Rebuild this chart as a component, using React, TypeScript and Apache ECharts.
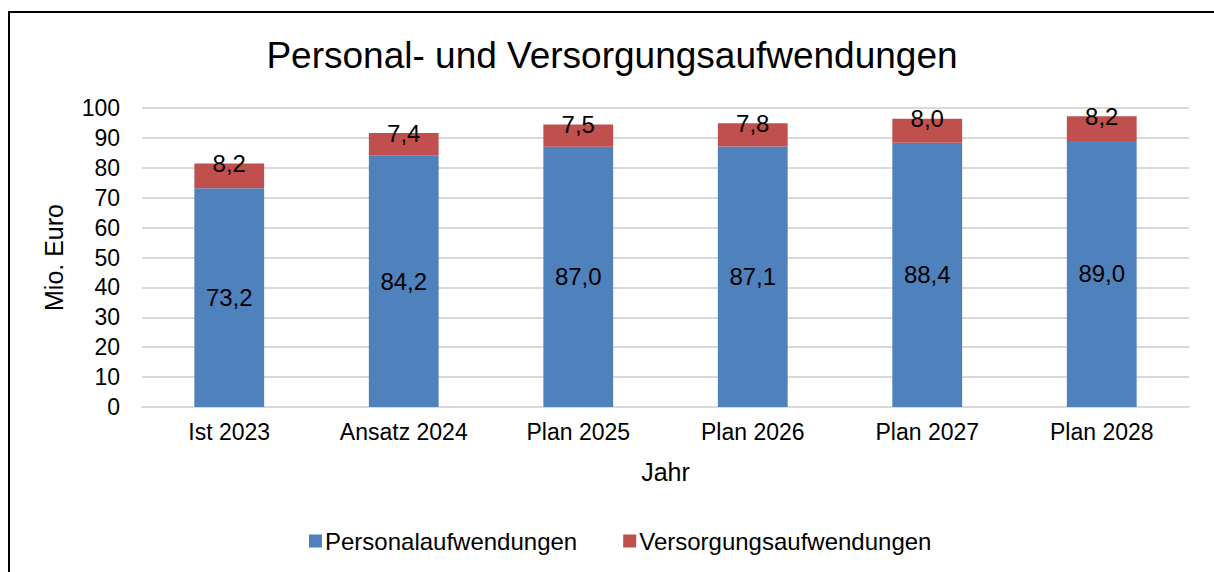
import React, { useEffect, useRef } from "react";
import * as echarts from "echarts";

const categories = ["Ist 2023", "Ansatz 2024", "Plan 2025", "Plan 2026", "Plan 2027", "Plan 2028"];
const personal = [73.2, 84.2, 87.0, 87.1, 88.4, 89.0];
const versorgung = [8.2, 7.4, 7.5, 7.8, 8.0, 8.2];
const seriesNames = ["Personalaufwendungen", "Versorgungsaufwendungen"];
const titleText = "Personal- und Versorgungsaufwendungen";

const FONT = "'Liberation Sans', Arial, Helvetica, sans-serif";
const fmt = (v: number) => v.toFixed(1).replace(".", ",");

export default function App() {
  const ref = useRef<HTMLDivElement>(null);
  useEffect(() => {
    if (!ref.current) return;
    const chart = echarts.init(ref.current, null, { renderer: "svg" });
    chart.setOption({
      animation: false,
      backgroundColor: "#ffffff",
      textStyle: { fontFamily: FONT, color: "#000" },
      graphic: [
        {
          type: "rect",
          shape: { x: 9, y: 12, width: 1400, height: 800 },
          style: { fill: "none", stroke: "#000", lineWidth: 2 },
          silent: true,
        },
        {
          type: "text",
          x: 612,
          y: 55,
          style: {
            text: titleText,
            align: "center",
            verticalAlign: "middle",
            fontSize: 37,
            fontFamily: FONT,
            fill: "#000",
          },
        },
      ],
      legend: {
        left: 304,
        top: 524,
        itemWidth: 13,
        itemHeight: 13,
        itemGap: 46,
        icon: "rect",
        textStyle: { fontSize: 24, color: "#000", fontFamily: FONT, padding: [0, 0, 0, -2] },
        data: seriesNames,
      },
      grid: { left: 142, right: 25, top: 108, bottom: 165, containLabel: false },
      xAxis: {
        type: "category",
        data: categories,
        name: "Jahr",
        nameLocation: "middle",
        nameGap: 52,
        nameTextStyle: { fontSize: 25, color: "#000", fontFamily: FONT },
        axisLine: { show: true, lineStyle: { color: "#d9d9d9", width: 2 } },
        axisTick: { show: false },
        axisLabel: { fontSize: 23, color: "#000", margin: 13, fontFamily: FONT },
      },
      yAxis: {
        type: "value",
        min: 0,
        max: 100,
        interval: 10,
        name: "Mio. Euro",
        nameLocation: "middle",
        nameGap: 76,
        nameTextStyle: { fontSize: 25, color: "#000", fontFamily: FONT },
        axisLine: { show: false },
        axisTick: { show: false },
        axisLabel: { fontSize: 23, color: "#000", margin: 22, fontFamily: FONT },
        splitLine: { lineStyle: { color: "#d9d9d9", width: 2 } },
      },
      series: [
        {
          name: seriesNames[0],
          type: "bar",
          stack: "total",
          barWidth: "40%",
          data: personal,
          itemStyle: { color: "#4F81BD" },
          label: {
            show: true,
            position: "inside",
            fontSize: 24,
            color: "#000",
            fontFamily: FONT,
            formatter: (p: any) => fmt(p.value),
          },
        },
        {
          name: seriesNames[1],
          type: "bar",
          stack: "total",
          barWidth: "40%",
          data: versorgung,
          itemStyle: { color: "#C0504D" },
          label: {
            show: true,
            position: ["50%", 0],
            align: "center",
            verticalAlign: "middle",
            fontSize: 24,
            color: "#000",
            fontFamily: FONT,
            formatter: (p: any) => fmt(p.value),
          },
        },
      ],
    });
    return () => chart.dispose();
  }, []);
  return (
    <div
      ref={ref}
      style={{ position: "fixed", left: 0, top: 0, width: 1214, height: 572 }}
    />
  );
}
